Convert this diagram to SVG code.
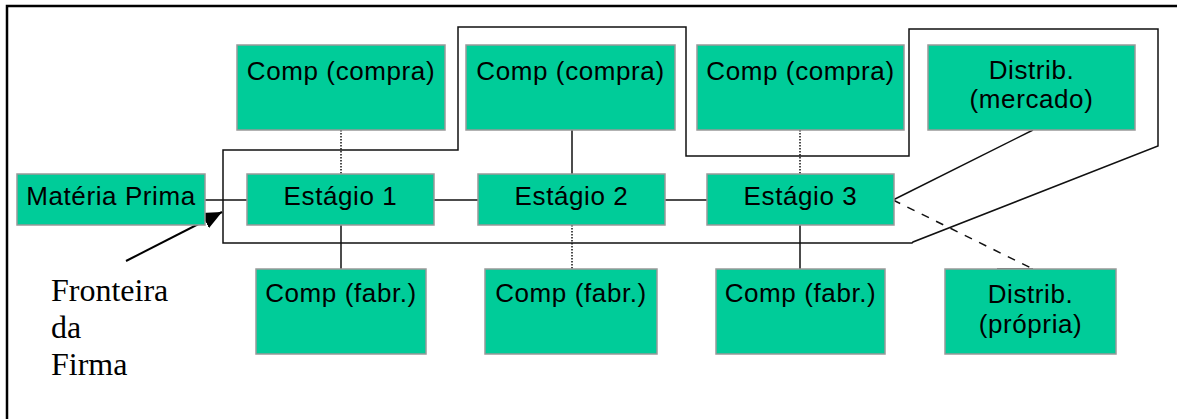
<svg xmlns="http://www.w3.org/2000/svg" width="1177" height="419" viewBox="0 0 1177 419">
<style>
.box{fill:#00CC99;stroke:#999999;stroke-width:1.5}
.t{font-family:"Liberation Sans",Arial,sans-serif;font-size:26px;letter-spacing:0.6px;fill:#000;text-anchor:middle}
.c{stroke:#111;stroke-width:1.5;fill:none}
.dot{stroke:#111;stroke-width:1.5;stroke-dasharray:1.5 1.5;fill:none}
.dash{stroke:#111;stroke-width:1.5;stroke-dasharray:8 8;fill:none}
.note{font-family:"Liberation Serif","Times New Roman",serif;font-size:32px;fill:#000}
</style>
<defs>
<marker id="ah" markerWidth="19" markerHeight="18" refX="19" refY="8.5" orient="auto" markerUnits="userSpaceOnUse" viewBox="0 0 19 17">
<path d="M0,0 L19,8.5 L0,17 z" fill="#000"/>
</marker>
</defs>
<rect width="1177" height="419" fill="#fff"/>
<g id="frame"><path d="M7,419 V6 H1177" fill="none" stroke="#000" stroke-width="2.5"/></g>
<g id="boundary"><path class="c" d="M223,150 H458 V27 H686 V156 H909 V29 H1158 V146 L913,242 L912,243 H223 Z"/></g>
<g id="connectors">
<line class="c" x1="205" y1="200" x2="247" y2="200"/>
<line class="c" x1="434" y1="200" x2="478" y2="200"/>
<line class="c" x1="665" y1="200" x2="707" y2="200"/>
<line class="dot" x1="341" y1="130" x2="341" y2="174"/>
<line class="c" x1="572" y1="130" x2="572" y2="174"/>
<line class="dot" x1="800" y1="130" x2="800" y2="174"/>
<line class="c" x1="341" y1="225" x2="341" y2="269"/>
<line class="dot" x1="572" y1="225" x2="572" y2="269"/>
<line class="c" x1="800" y1="225" x2="800" y2="269"/>
<line class="c" x1="893" y1="200" x2="1033" y2="130"/>
<line class="dash" x1="893" y1="200" x2="1033" y2="269"/>
<line class="c" x1="997" y1="269" x2="1033" y2="269" stroke-width="2"/>
<line x1="126" y1="261" x2="222" y2="212" stroke="#000" stroke-width="2" marker-end="url(#ah)"/>
</g>
<g id="materia"><rect class="box" x="17" y="174" width="188" height="51"/><text class="t" x="111" y="205">Matéria Prima</text></g>
<g id="estagio1"><rect class="box" x="247" y="174" width="187" height="51"/><text class="t" x="340.5" y="205">Estágio 1</text></g>
<g id="estagio2"><rect class="box" x="478" y="174" width="187" height="51"/><text class="t" x="571.5" y="205">Estágio 2</text></g>
<g id="estagio3"><rect class="box" x="707" y="174" width="187" height="51"/><text class="t" x="800.5" y="205">Estágio 3</text></g>
<g id="compra1"><rect class="box" x="237" y="45" width="208" height="85"/><text class="t" x="341" y="80">Comp (compra)</text></g>
<g id="compra2"><rect class="box" x="466" y="45" width="209" height="85"/><text class="t" x="570.5" y="80">Comp (compra)</text></g>
<g id="compra3"><rect class="box" x="697" y="45" width="207" height="85"/><text class="t" x="800.5" y="80">Comp (compra)</text></g>
<g id="mercado"><rect class="box" x="928" y="45" width="207" height="85"/><text class="t" x="1031.5" y="79">Distrib.</text><text class="t" x="1031.5" y="108">(mercado)</text></g>
<g id="fabr1"><rect class="box" x="256" y="269" width="170" height="85"/><text class="t" x="341" y="302">Comp (fabr.)</text></g>
<g id="fabr2"><rect class="box" x="485" y="269" width="172" height="85"/><text class="t" x="571" y="302">Comp (fabr.)</text></g>
<g id="fabr3"><rect class="box" x="716" y="269" width="169" height="85"/><text class="t" x="800.5" y="302">Comp (fabr.)</text></g>
<g id="propria"><rect class="box" x="945" y="269" width="171" height="85"/><text class="t" x="1030.5" y="303">Distrib.</text><text class="t" x="1030.5" y="333">(própria)</text></g>
<g id="label"><text class="note" x="51" y="301">Fronteira</text><text class="note" x="51" y="338">da</text><text class="note" x="51" y="375">Firma</text></g>
</svg>
